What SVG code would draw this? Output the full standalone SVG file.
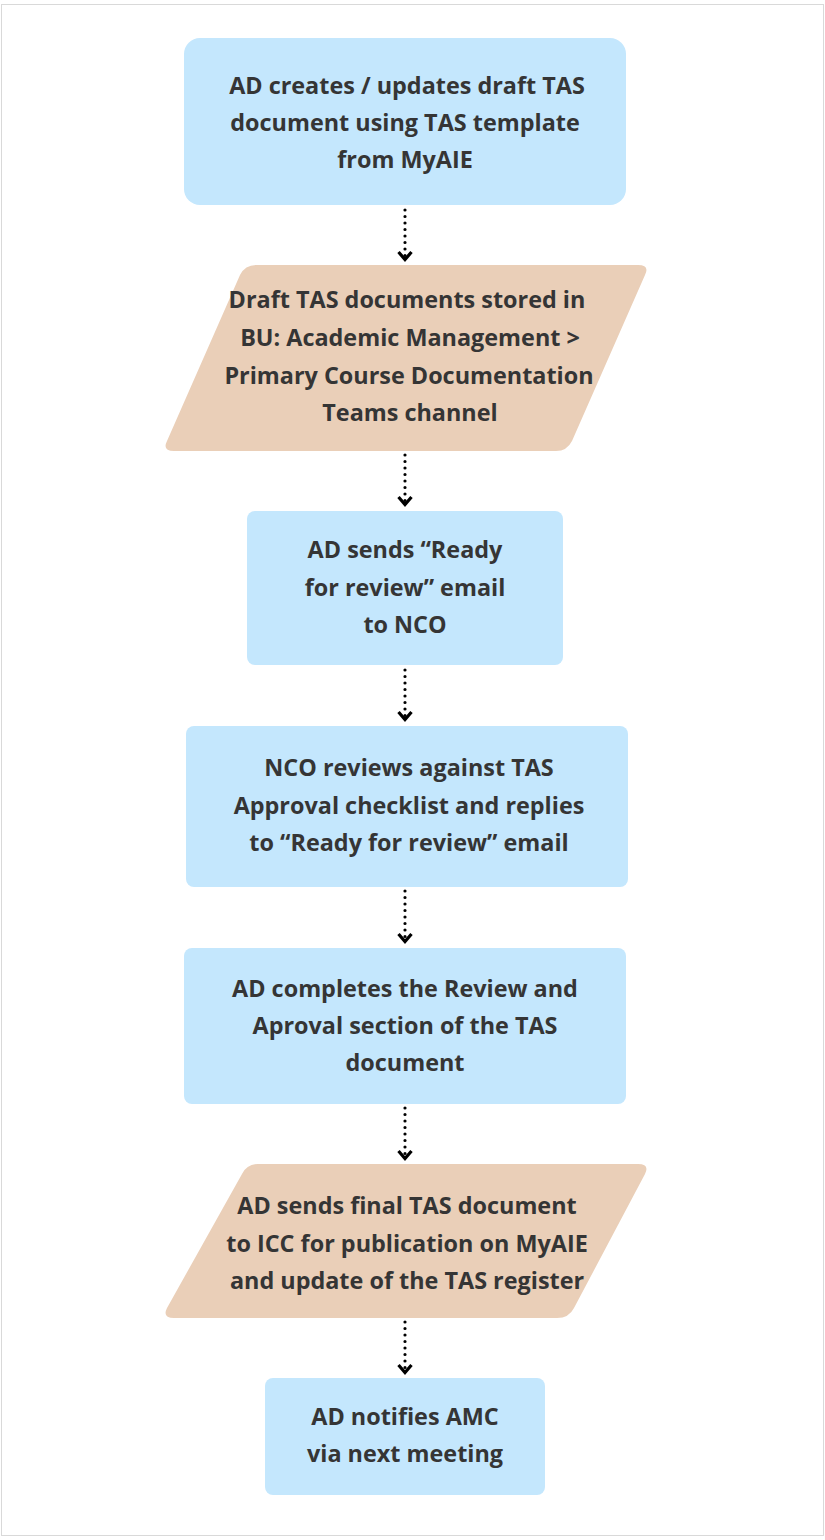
<svg xmlns="http://www.w3.org/2000/svg" width="825" height="1540" viewBox="0 0 825 1540">
<style>
.bg{fill:#ffffff;stroke:#d9d9d9;stroke-width:1}
.blue{fill:#c4e7fd}
.tan{fill:#eacfb8}
.t{font-family:"Open Sans","Liberation Sans",sans-serif;font-weight:700;font-size:23.4px;fill:#353535;text-anchor:middle;dominant-baseline:central}
.c{stroke:#000;stroke-width:3.2;stroke-linecap:round;stroke-dasharray:0 6.5;fill:none}
.h{fill:none;stroke:#000;stroke-width:3.2;stroke-linejoin:miter}
</style>
<rect class="bg" x="1.5" y="4.5" width="822" height="1531"/>
<g id="connectors">
<g id="c1"><line class="c" x1="405" y1="210" x2="405" y2="256"/><path class="h" d="M398.5 252 L405 259.5 L411.5 252"/></g>
<g id="c2"><line class="c" x1="405" y1="455" x2="405" y2="501"/><path class="h" d="M398.5 497 L405 504.5 L411.5 497"/></g>
<g id="c3"><line class="c" x1="405" y1="670" x2="405" y2="716"/><path class="h" d="M398.5 712 L405 719.5 L411.5 712"/></g>
<g id="c4"><line class="c" x1="405" y1="891" x2="405" y2="938"/><path class="h" d="M398.5 934 L405 941.5 L411.5 934"/></g>
<g id="c5"><line class="c" x1="405" y1="1108" x2="405" y2="1155"/><path class="h" d="M398.5 1151 L405 1158.5 L411.5 1151"/></g>
<g id="c6"><line class="c" x1="405" y1="1322" x2="405" y2="1369"/><path class="h" d="M398.5 1365 L405 1372.5 L411.5 1365"/></g>
</g>
<g id="n1">
<rect class="blue" x="184" y="38" width="442" height="167" rx="16"/>
<text class="t" x="407" y="85">AD creates / updates draft TAS</text>
<text class="t" x="405" y="122">document using TAS template</text>
<text class="t" x="405" y="159">from MyAIE</text>
</g>
<g id="n2">
<path class="tan" d="M256 265 L638 265 Q650 265 645 275 L572 441 Q567 451 556 451 L174 451 Q162 451 167 441 L240 275 Q245 265 256 265 Z"/>
<text class="t" x="407" y="299">Draft TAS documents stored in</text>
<text class="t" x="410" y="337">BU: Academic Management &gt;</text>
<text class="t" x="409" y="375">Primary Course Documentation</text>
<text class="t" x="410" y="412">Teams channel</text>
</g>
<g id="n3">
<rect class="blue" x="247" y="511" width="316" height="154" rx="8"/>
<text class="t" x="405" y="549">AD sends “Ready</text>
<text class="t" x="405" y="587">for review” email</text>
<text class="t" x="405" y="624">to NCO</text>
</g>
<g id="n4">
<rect class="blue" x="186" y="726" width="442" height="161" rx="8"/>
<text class="t" x="409" y="767">NCO reviews against TAS</text>
<text class="t" x="409" y="805">Approval checklist and replies</text>
<text class="t" x="409" y="842">to “Ready for review” email</text>
</g>
<g id="n5">
<rect class="blue" x="184" y="948" width="442" height="156" rx="8"/>
<text class="t" x="405" y="988">AD completes the Review and</text>
<text class="t" x="405" y="1025">Aproval section of the TAS</text>
<text class="t" x="405" y="1062">document</text>
</g>
<g id="n6">
<path class="tan" d="M258 1164 L638 1164 Q650 1164 645 1174 L574 1308 Q569 1318 557 1318 L174 1318 Q162 1318 167 1308 L242 1174 Q247 1164 258 1164 Z"/>
<text class="t" x="407" y="1205">AD sends final TAS document</text>
<text class="t" x="407" y="1243">to ICC for publication on MyAIE</text>
<text class="t" x="407" y="1280">and update of the TAS register</text>
</g>
<g id="n7">
<rect class="blue" x="265" y="1378" width="280" height="117" rx="8"/>
<text class="t" x="405" y="1416">AD notifies AMC</text>
<text class="t" x="405" y="1453">via next meeting</text>
</g>
</svg>
